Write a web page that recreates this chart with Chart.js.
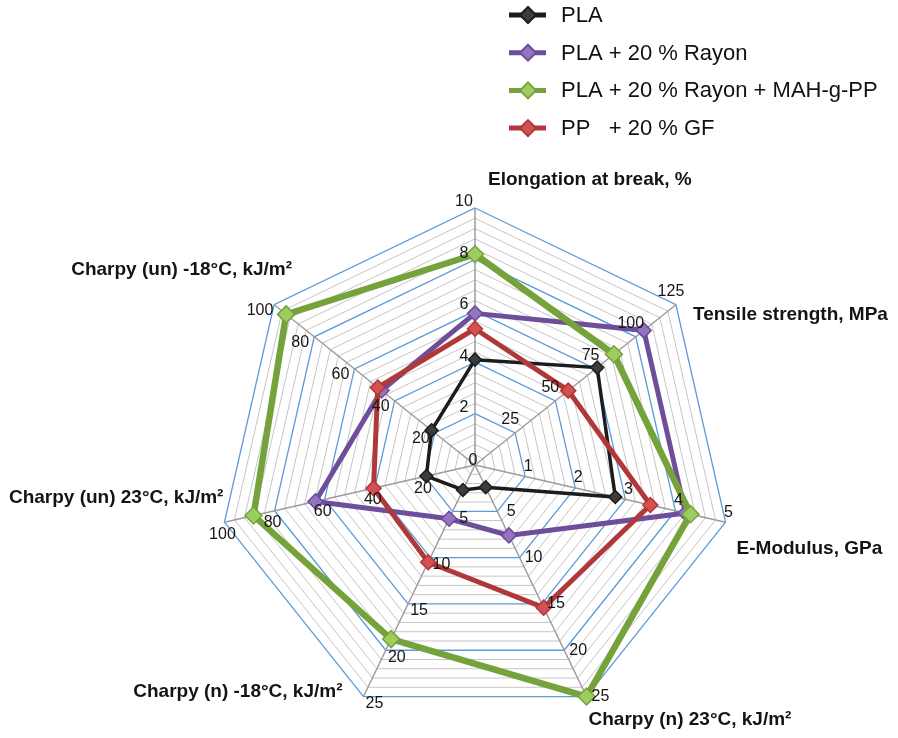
<!DOCTYPE html>
<html>
<head>
<meta charset="utf-8">
<script src="https://cdn.jsdelivr.net/npm/chart.js@4"></script>
<style>
  body { margin: 0; background: #fff; }
  canvas { display: block; }
</style>
</head>
<body>
<canvas id="radarChart" width="898" height="738"></canvas>
<script>
const axes = ['Elongation at break, %', 'Tensile strength, MPa', 'E-Modulus, GPa',
    'Charpy (n) 23°C, kJ/m²', 'Charpy (n) -18°C, kJ/m²', 'Charpy (un) 23°C, kJ/m²', 'Charpy (un) -18°C, kJ/m²'];
const axisMax = [10, 125, 5, 25, 25, 100, 100];
const axisTicks = [
    [0, 2, 4, 6, 8, 10],
    [25, 50, 75, 100, 125],
    [1, 2, 3, 4, 5],
    [5, 10, 15, 20, 25],
    [5, 10, 15, 20, 25],
    [20, 40, 60, 80, 100],
    [20, 40, 60, 80, 100]
];
const seriesNames = ['PLA', 'PLA + 20 % Rayon', 'PLA + 20 % Rayon + MAH-g-PP', 'PP   + 20 % GF'];
const pla = [4.1, 76, 2.8, 2.4, 2.7, 19.4, 21.6];
const plaRayon = [5.9, 105, 4.2, 7.6, 5.8, 63.7, 46.5];
const plaRayonMah = [8.2, 86.4, 4.3, 25, 18.8, 88.4, 94];
const ppGf = [5.3, 58, 3.5, 15.4, 10.5, 40.5, 48.4];

// every axis has its own range, the radial scale runs 0..25 (25 grid rings)
const RINGS = 25;
function toRing(values) {
    return values.map((v, i) => v / axisMax[i] * RINGS);
}

const lineColors = ['#1c1c1c', '#6e4d9b', '#76a23b', '#b03838'];
const pointColors = ['#3c3c3c', '#9474c2', '#9dcd5e', '#d55050'];
const lineWidths = [3.5, 5, 6.5, 5];
const pointSizes = [6.5, 7.5, 8.5, 7.5];
const drawOrder = [3, 2, 1, 0];

// label placement around each axis (style only)
const tickOffsets = [[-11, -6], [-5, -13], [3, -10], [14, 0], [11, 7], [-2, 12], [-14, 6]];
const titleOffsets = [[13, -28, 'left'], [17, 10, 'left'], [11, 27, 'left'], [2, 23, 'left'],
    [-21, -5, 'right'], [-1, -24, 'right'], [18, -35, 'right']];

const seriesData = [pla, plaRayon, plaRayonMah, ppGf];

const radarText = {
    id: 'radarText',
    afterDraw(chart) {
        const ctx = chart.ctx;
        const r = chart.scales.r;
        ctx.save();
        ctx.textBaseline = 'middle';

        // per-axis tick labels
        ctx.font = '16px "Liberation Sans", Arial, sans-serif';
        ctx.fillStyle = '#161616';
        ctx.textAlign = 'center';
        axisTicks.forEach((ticks, i) => {
            ticks.forEach(t => {
                const p = r.getPointPositionForValue(i, t / axisMax[i] * RINGS);
                if (t === 0) {
                    ctx.fillText('0', p.x - 2, p.y - 4);
                } else {
                    ctx.fillText(String(t), p.x + tickOffsets[i][0], p.y + tickOffsets[i][1]);
                }
            });
        });

        // axis titles
        ctx.font = 'bold 19px "Liberation Sans", Arial, sans-serif';
        ctx.fillStyle = '#141414';
        axes.forEach((name, i) => {
            const p = r.getPointPositionForValue(i, RINGS);
            const off = titleOffsets[i];
            ctx.textAlign = off[2];
            ctx.fillText(name, p.x + off[0], p.y + off[1]);
        });

        // legend: line + diamond marker
        ctx.font = '22px "Liberation Sans", Arial, sans-serif';
        ctx.textAlign = 'left';
        seriesNames.forEach((name, k) => {
            const y = 15 + k * 37.7;
            ctx.strokeStyle = lineColors[k];
            ctx.lineWidth = 5;
            ctx.beginPath();
            ctx.moveTo(509, y);
            ctx.lineTo(546, y);
            ctx.stroke();
            ctx.fillStyle = pointColors[k];
            ctx.lineWidth = 2;
            ctx.beginPath();
            ctx.moveTo(528, y - 8);
            ctx.lineTo(536, y);
            ctx.lineTo(528, y + 8);
            ctx.lineTo(520, y);
            ctx.closePath();
            ctx.fill();
            ctx.stroke();
            ctx.fillStyle = '#111';
            ctx.fillText(name, 561, y + 1);
        });
        ctx.restore();
    }
};

const ctxRadar = document.getElementById('radarChart').getContext('2d');

new Chart(ctxRadar, {
    type: 'radar',
    data: {
        labels: axes,
        datasets: seriesData.map((values, k) => ({
            label: seriesNames[k],
            data: toRing(values),
            borderColor: lineColors[k],
            backgroundColor: 'transparent',
            borderWidth: lineWidths[k],
            fill: false,
            tension: 0,
            pointStyle: 'rectRot',
            pointRadius: pointSizes[k],
            pointBackgroundColor: pointColors[k],
            pointBorderColor: lineColors[k],
            pointBorderWidth: 1.5,
            order: drawOrder[k]
        }))
    },
    options: {
        responsive: false,
        animation: false,
        layout: {
            padding: { left: 218, top: 208, right: 166, bottom: 16 }
        },
        plugins: {
            legend: { display: false },
            tooltip: { enabled: false }
        },
        scales: {
            r: {
                min: 0,
                max: RINGS,
                ticks: { display: false, stepSize: 1, maxTicksLimit: 40 },
                pointLabels: { display: false },
                grid: {
                    color: c => (c.index % 5 === 0 ? '#5b9bd8' : '#c6c6c6'),
                    lineWidth: c => (c.index % 5 === 0 ? 1.3 : 1)
                },
                angleLines: {
                    color: '#9c9c9c',
                    lineWidth: 1.5
                }
            }
        }
    },
    plugins: [radarText]
});
</script>
</body>
</html>
